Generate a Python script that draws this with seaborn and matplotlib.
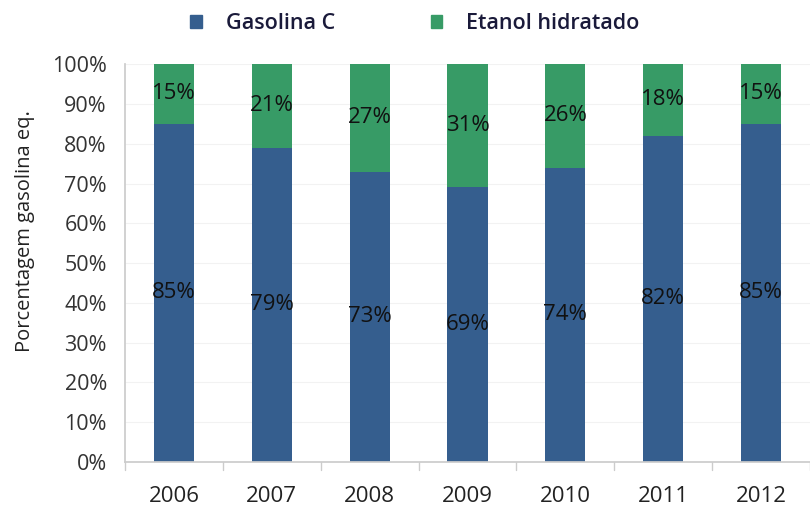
import matplotlib
matplotlib.use("Agg")
import matplotlib.pyplot as plt
import seaborn as sns
import pandas as pd
from matplotlib.patches import Patch

years = ["2006", "2007", "2008", "2009", "2010", "2011", "2012"]
gasolina = [85, 79, 73, 69, 74, 82, 85]
etanol = [15, 21, 27, 31, 26, 18, 15]
series_names = ["Gasolina C", "Etanol hidratado"]
yticks = [0, 10, 20, 30, 40, 50, 60, 70, 80, 90, 100]

blue = "#355E8E"
green = "#379B66"

sns.set_theme(style="white")
plt.rcParams["font.family"] = ["Open Sans", "DejaVu Sans"]

df = pd.DataFrame({"year": years, "gas": gasolina, "eta": etanol})
df["total"] = df["gas"] + df["eta"]

fig = plt.figure(figsize=(8.1, 5.05), dpi=100)
ax = fig.add_axes([0.1543, 0.0851, 0.8457, 0.7879])

sns.barplot(data=df, x="year", y="total", color=green, width=0.41,
            saturation=1, ax=ax, edgecolor="none")
sns.barplot(data=df, x="year", y="gas", color=blue, width=0.41,
            saturation=1, ax=ax, edgecolor="none")

blue_bars = ax.containers[1]
for bar, g, e in zip(blue_bars, gasolina, etanol):
    cx = bar.get_x() + bar.get_width() / 2
    ax.text(cx, g / 2, f"{g}%", ha="center", va="center",
            fontsize=16, color="#111111")
    ax.text(cx, g + e / 2, f"{e}%", ha="center", va="center",
            fontsize=16, color="#111111")

ax.set_ylim(0, 100)
ax.set_xlim(-0.5, len(years) - 0.5)
ax.set_yticks(yticks)
ax.set_yticklabels([f"{t}%" for t in yticks], fontsize=15.5, color="#333333")
ax.set_xticks(range(len(years)))
ax.set_xticklabels(years, fontsize=16, color="#222222")
ax.tick_params(axis="x", length=0, pad=17)
ax.tick_params(axis="y", length=8, color="#CCCCCC", direction="out", pad=5, width=1)
ax.set_xlabel("")
ax.set_ylabel("Porcentagem gasolina eq.", fontsize=14.5, color="#222222")
ax.yaxis.set_label_coords(-0.131, 0.58)

ax.yaxis.grid(True, color="#F2F2F2", linewidth=0.8)
ax.set_axisbelow(True)
for s in ["top", "right"]:
    ax.spines[s].set_visible(False)
ax.spines["left"].set_color("#CCCCCC")
ax.spines["bottom"].set_color("#CCCCCC")

for i in range(len(years) + 1):
    ax.plot([i - 0.5, i - 0.5], [0, -2], color="#CCCCCC", lw=1,
            clip_on=False)

handles = [Patch(color=blue), Patch(color=green)]
fig.legend(handles, series_names, loc="center", bbox_to_anchor=(0.512, 0.953),
           ncol=2, frameon=False, handlelength=0.55, handleheight=0.55,
           columnspacing=4.45, handletextpad=1.1,
           prop={"weight": "semibold", "size": 15.5})
for t in fig.legends[0].get_texts():
    t.set_color("#1A1A3A")

fig.savefig("out.png", dpi=100)
